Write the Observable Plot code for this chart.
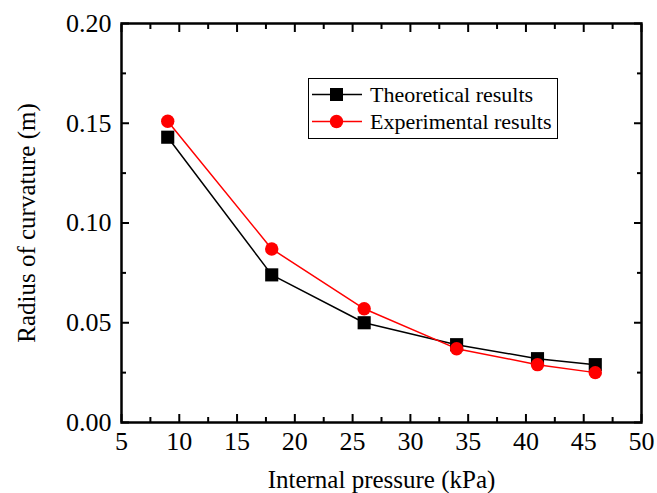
<!DOCTYPE html>
<html>
<head>
<meta charset="utf-8">
<script src="https://cdn.jsdelivr.net/npm/d3@7"></script>
<script src="https://cdn.jsdelivr.net/npm/@observablehq/plot@0.6"></script>
<style>
  body { margin: 0; background: #fff; }
  #chart { position: relative; width: 657px; height: 493px; font-family: "Liberation Serif", "Times New Roman", serif; }
  #legend { position: absolute; box-sizing: border-box; left: 308px; top: 78px; width: 250px; height: 61px; border: 1.5px solid #000; background: #fff; }
  #legend .row { position: absolute; left: 3px; height: 26px; display: flex; align-items: center; font-size: 22px; color: #000; white-space: nowrap; }
  #legend svg { margin-right: 8px; flex: none; }
</style>
</head>
<body>
<div id="chart"></div>
<script>
// Internal pressure (kPa) and radius of curvature (m)
const pressure = [9, 18, 26, 34, 41, 46];
const theoretical = [0.143, 0.074, 0.050, 0.039, 0.032, 0.029];
const experimental = [0.151, 0.087, 0.057, 0.037, 0.029, 0.025];

const seriesNames = ["Theoretical results", "Experimental results"];
const seriesColors = ["#000000", "#ff0000"];

const xTicks = [5, 10, 15, 20, 25, 30, 35, 40, 45, 50];
const xMinorTicks = [7.5, 12.5, 17.5, 22.5, 27.5, 32.5, 37.5, 42.5, 47.5];
const yTicks = [0, 0.05, 0.10, 0.15, 0.20];
const yMinorTicks = [0.025, 0.075, 0.125, 0.175];

const theo = pressure.map((p, i) => ({p, r: theoretical[i]}));
const expt = pressure.map((p, i) => ({p, r: experimental[i]}));

const font = '"Liberation Serif", "Times New Roman", serif';
const blank = () => "";

const chart = Plot.plot({
  width: 657,
  height: 493,
  marginLeft: 121,
  marginRight: 16,
  marginTop: 23,
  marginBottom: 71,
  style: {fontFamily: font, background: "#fff", color: "#000"},
  x: {domain: [5, 50]},
  y: {domain: [0, 0.20]},
  marks: [
    // tick labels
    Plot.axisX(xTicks, {anchor: "bottom", tickSize: 0, tickPadding: 9, fontSize: 26, label: null}),
    Plot.axisY(yTicks, {anchor: "left", tickSize: 0, tickPadding: 10, fontSize: 26, label: null, tickFormat: d3.format(".2f")}),
    // inward major and minor ticks on all four sides
    Plot.axisX(xTicks, {anchor: "bottom", tickSize: -8, strokeWidth: 2, tickFormat: blank, label: null}),
    Plot.axisX(xTicks, {anchor: "top", tickSize: -8, strokeWidth: 2, tickFormat: blank, label: null}),
    Plot.axisX(xMinorTicks, {anchor: "bottom", tickSize: -5, strokeWidth: 2, tickFormat: blank, label: null}),
    Plot.axisX(xMinorTicks, {anchor: "top", tickSize: -5, strokeWidth: 2, tickFormat: blank, label: null}),
    Plot.axisY(yTicks, {anchor: "left", tickSize: -8, strokeWidth: 2, tickFormat: blank, label: null}),
    Plot.axisY(yTicks, {anchor: "right", tickSize: -8, strokeWidth: 2, tickFormat: blank, label: null}),
    Plot.axisY(yMinorTicks, {anchor: "left", tickSize: -5, strokeWidth: 2, tickFormat: blank, label: null}),
    Plot.axisY(yMinorTicks, {anchor: "right", tickSize: -5, strokeWidth: 2, tickFormat: blank, label: null}),
    Plot.frame({stroke: "#000", strokeWidth: 2.5}),
    // series
    Plot.line(theo, {x: "p", y: "r", stroke: seriesColors[0], strokeWidth: 1.5}),
    Plot.line(expt, {x: "p", y: "r", stroke: seriesColors[1], strokeWidth: 1.5}),
    Plot.dot(theo, {x: "p", y: "r", symbol: "square", r: 7.4, fill: seriesColors[0]}),
    Plot.dot(expt, {x: "p", y: "r", symbol: "circle", r: 6.7, fill: seriesColors[1]}),
    // axis titles
    Plot.text(["Internal pressure (kPa)"], {frameAnchor: "bottom", dy: 57, textAnchor: "middle", lineAnchor: "middle", fontSize: 25, fontFamily: font}),
    Plot.text(["Radius of curvature (m)"], {frameAnchor: "left", dx: -95, textAnchor: "middle", lineAnchor: "middle", rotate: -90, fontSize: 25, fontFamily: font})
  ]
});

const container = document.getElementById("chart");
container.appendChild(chart);

// legend
const legend = document.createElement("div");
legend.id = "legend";
seriesNames.forEach((name, i) => {
  const row = document.createElement("div");
  row.className = "row";
  row.style.top = (i === 0 ? 2.5 : 29.5) + "px";
  const marker = i === 0
    ? `<rect x="18" y="6" width="13" height="13" fill="${seriesColors[i]}"/>`
    : `<circle cx="24.5" cy="12.5" r="6.7" fill="${seriesColors[i]}"/>`;
  row.innerHTML = `<svg width="50" height="25"><line x1="0" x2="50" y1="12.5" y2="12.5" stroke="${seriesColors[i]}" stroke-width="1.5"/>${marker}</svg><span>${name}</span>`;
  legend.appendChild(row);
});
container.appendChild(legend);
</script>
</body>
</html>
